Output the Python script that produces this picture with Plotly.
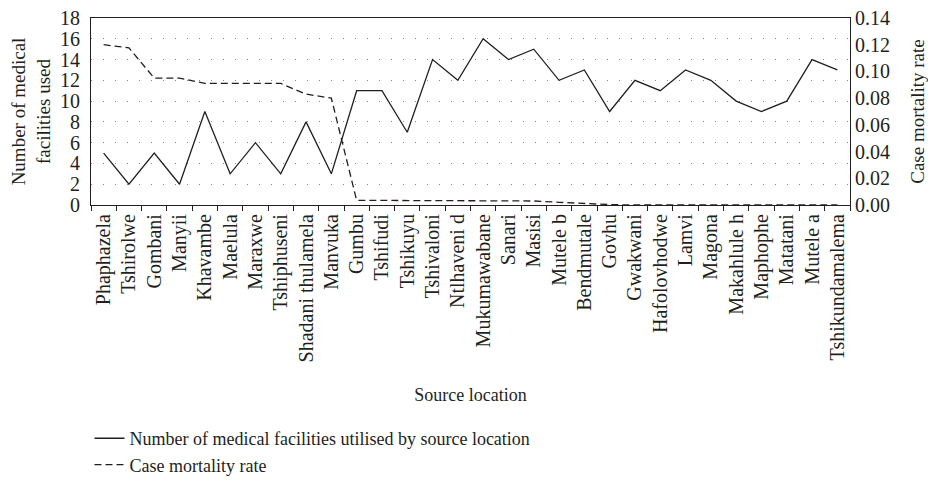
import plotly.graph_objects as go

locations = ["Phaphazela", "Tshirolwe", "Gombani", "Manyii", "Khavambe", "Maelula", "Maraxwe",
             "Tshiphuseni", "Shadani thulamela", "Manvuka", "Gumbu", "Tshifudi", "Tshikuyu",
             "Tshivaloni", "Ntlhaveni d", "Mukumawabane", "Sanari", "Masisi", "Mutele b",
             "Bendmutale", "Govhu", "Gwakwani", "Hafolovhodwe", "Lamvi", "Magona",
             "Makahlule h", "Maphophe", "Matatani", "Mutele a", "Tshikundamalema"]
facilities = [5, 2, 5, 2, 9, 3, 6, 3, 8, 3, 11, 11, 7, 14, 12, 16, 14, 15, 12, 13,
              9, 12, 11, 13, 12, 10, 9, 10, 14, 13]
mortality = [0.120, 0.1176, 0.095, 0.095, 0.091, 0.091, 0.091, 0.091, 0.083, 0.080,
             0.0035, 0.0035, 0.0035, 0.0035, 0.0035, 0.0035, 0.0035, 0.003, 0.002, 0.001,
             0.0003, 0, 0, 0, 0, 0, 0, 0, 0, 0]
left_ticks = list(range(0, 19, 2))
right_ticks = [0.00, 0.02, 0.04, 0.06, 0.08, 0.10, 0.12, 0.14]

FONT = "Liberation Serif"
ink = "#231f20"

fig = go.Figure()
fig.add_trace(go.Scatter(x=locations, y=facilities, mode="lines",
                         name="Number of medical facilities utilised by source location",
                         line=dict(color=ink, width=1.3)))
fig.add_trace(go.Scatter(x=locations, y=mortality, mode="lines", yaxis="y2",
                         name="Case mortality rate",
                         line=dict(color=ink, width=1.3, dash="7px,4px")))

fig.update_layout(
    width=928, height=480,
    margin=dict(l=91, r=78, t=18, b=275, autoexpand=False),
    paper_bgcolor="white", plot_bgcolor="white",
    font=dict(family=FONT, size=18, color=ink),
    showlegend=True,
    legend=dict(x=-0.002, xanchor="left", y=-1.15, yanchor="top",
                bgcolor="rgba(0,0,0,0)", font=dict(size=18, family=FONT),
                itemwidth=30, tracegroupgap=0),
    xaxis=dict(type="category", tickangle=-90, tickson="boundaries",
               ticks="outside", ticklen=5, tickcolor=ink, automargin=False,
               showline=True, linecolor=ink, linewidth=1.2, mirror=True,
               showgrid=False, tickfont=dict(size=20, family=FONT),
               title=dict(text="Source location", standoff=27,
                          font=dict(size=18, family=FONT)),
               range=[-0.5, len(locations) - 0.5]),
    yaxis=dict(range=[0, 18], tickvals=left_ticks, ticks="", automargin=False,
               ticklabelstandoff=6,
               showline=True, linecolor=ink, linewidth=1.2,
               showgrid=True, gridcolor="#888888", gridwidth=1, griddash="1px,11px",
               zeroline=False, tickfont=dict(size=20, family=FONT),
               title=dict(text="Number of medical<br>facilities used", standoff=4,
                          font=dict(size=19, family=FONT))),
    yaxis2=dict(range=[0, 0.14], tickvals=right_ticks, tickformat=".2f",
                overlaying="y", side="right", ticks="", automargin=False,
                showline=True, linecolor=ink, linewidth=1.2,
                showgrid=False, zeroline=False, tickfont=dict(size=20, family=FONT),
                title=dict(text="Case mortality rate", standoff=22,
                           font=dict(size=19, family=FONT))),
)

fig.write_html("out.html", config={"displayModeBar": False},
               post_script="document.body.style.margin='0';")
